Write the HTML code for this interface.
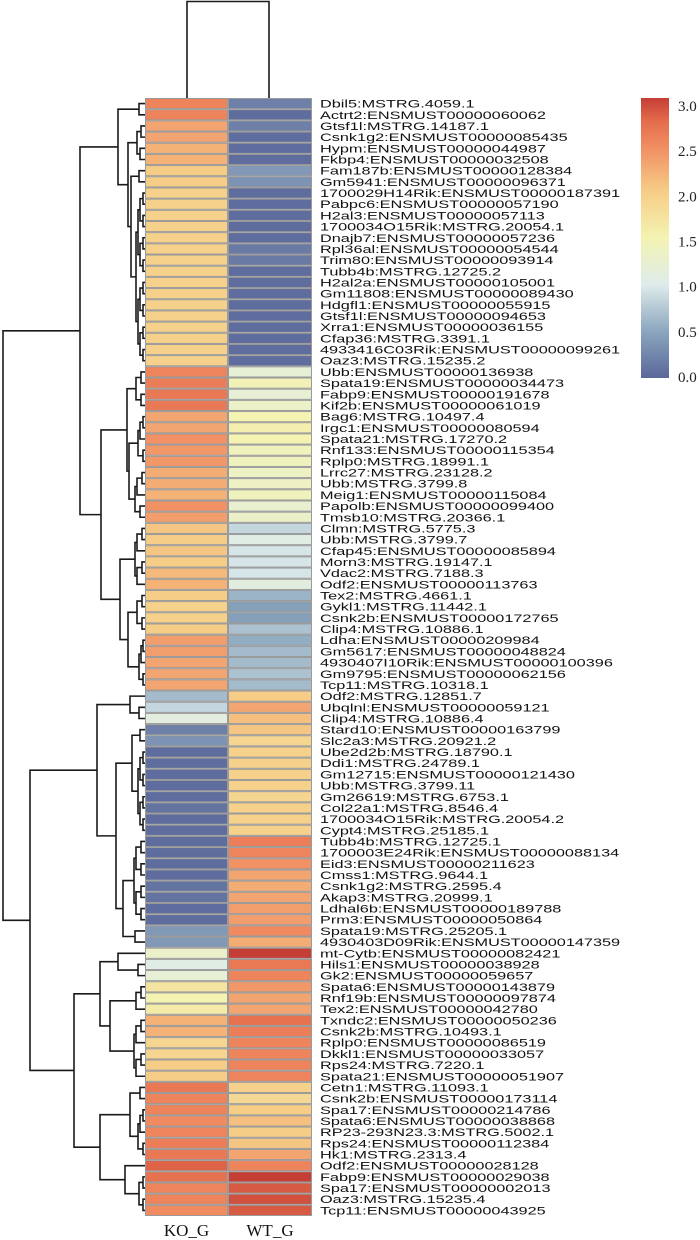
<!DOCTYPE html>
<html><head><meta charset="utf-8"><style>
html,body{margin:0;padding:0;background:#fff;}
svg{display:block;}
</style></head><body>
<svg id="chartSvg" width="700" height="1240" xmlns="http://www.w3.org/2000/svg">
<g id="gDendro" fill="none" stroke="#1a1a1a" stroke-width="1.6"></g>
<g id="gColDendro" fill="none" stroke="#1a1a1a" stroke-width="1.6"><path d="M187,98V1.5H269V98"></path></g>
<g id="gCells"></g>
<g id="gLabels"></g>
<g id="gColLabels"></g>
<g id="gLegend">
<defs><linearGradient id="cbGrad" x1="0" y1="1" x2="0" y2="0">
<stop offset="0" stop-color="rgb(90,103,154)"/><stop offset="0.1667" stop-color="rgb(139,166,190)"/><stop offset="0.3333" stop-color="rgb(222,236,235)"/><stop offset="0.5" stop-color="rgb(244,243,178)"/><stop offset="0.6667" stop-color="rgb(246,205,135)"/><stop offset="0.8333" stop-color="rgb(240,138,96)"/><stop offset="0.9167" stop-color="rgb(228,108,76)"/><stop offset="1" stop-color="rgb(196,62,53)"/>
</linearGradient></defs>
<rect x="641" y="98" width="28" height="280" fill="url(#cbGrad)"></rect>
</g>
</svg>
<script>
var rowLabels = ["Dbil5:MSTRG.4059.1","Actrt2:ENSMUST00000060062","Gtsf1l:MSTRG.14187.1","Csnk1g2:ENSMUST00000085435","Hypm:ENSMUST00000044987","Fkbp4:ENSMUST00000032508","Fam187b:ENSMUST00000128384","Gm5941:ENSMUST00000096371","1700029H14Rik:ENSMUST00000187391","Pabpc6:ENSMUST00000057190","H2al3:ENSMUST00000057113","1700034O15Rik:MSTRG.20054.1","Dnajb7:ENSMUST00000057236","Rpl36al:ENSMUST00000054544","Trim80:ENSMUST00000093914","Tubb4b:MSTRG.12725.2","H2al2a:ENSMUST00000105001","Gm11808:ENSMUST00000089430","Hdgfl1:ENSMUST00000055915","Gtsf1l:ENSMUST00000094653","Xrra1:ENSMUST00000036155","Cfap36:MSTRG.3391.1","4933416C03Rik:ENSMUST00000099261","Oaz3:MSTRG.15235.2","Ubb:ENSMUST00000136938","Spata19:ENSMUST00000034473","Fabp9:ENSMUST00000191678","Kif2b:ENSMUST00000061019","Bag6:MSTRG.10497.4","Irgc1:ENSMUST00000080594","Spata21:MSTRG.17270.2","Rnf133:ENSMUST00000115354","Rplp0:MSTRG.18991.1","Lrrc27:MSTRG.23128.2","Ubb:MSTRG.3799.8","Meig1:ENSMUST00000115084","Papolb:ENSMUST00000099400","Tmsb10:MSTRG.20366.1","Clmn:MSTRG.5775.3","Ubb:MSTRG.3799.7","Cfap45:ENSMUST00000085894","Morn3:MSTRG.19147.1","Vdac2:MSTRG.7188.3","Odf2:ENSMUST00000113763","Tex2:MSTRG.4661.1","Gykl1:MSTRG.11442.1","Csnk2b:ENSMUST00000172765","Clip4:MSTRG.10886.1","Ldha:ENSMUST00000209984","Gm5617:ENSMUST00000048824","4930407I10Rik:ENSMUST00000100396","Gm9795:ENSMUST00000062156","Tcp11:MSTRG.10318.1","Odf2:MSTRG.12851.7","Ubqlnl:ENSMUST00000059121","Clip4:MSTRG.10886.4","Stard10:ENSMUST00000163799","Slc2a3:MSTRG.20921.2","Ube2d2b:MSTRG.18790.1","Ddi1:MSTRG.24789.1","Gm12715:ENSMUST00000121430","Ubb:MSTRG.3799.11","Gm26619:MSTRG.6753.1","Col22a1:MSTRG.8546.4","1700034O15Rik:MSTRG.20054.2","Cypt4:MSTRG.25185.1","Tubb4b:MSTRG.12725.1","1700003E24Rik:ENSMUST00000088134","Eid3:ENSMUST00000211623","Cmss1:MSTRG.9644.1","Csnk1g2:MSTRG.2595.4","Akap3:MSTRG.20999.1","Ldhal6b:ENSMUST00000189788","Prm3:ENSMUST00000050864","Spata19:MSTRG.25205.1","4930403D09Rik:ENSMUST00000147359","mt-Cytb:ENSMUST00000082421","Hils1:ENSMUST00000038928","Gk2:ENSMUST00000059657","Spata6:ENSMUST00000143879","Rnf19b:ENSMUST00000097874","Tex2:ENSMUST00000042780","Txndc2:ENSMUST00000050236","Csnk2b:MSTRG.10493.1","Rplp0:ENSMUST00000086519","Dkkl1:ENSMUST00000033057","Rps24:MSTRG.7220.1","Spata21:ENSMUST00000051907","Cetn1:MSTRG.11093.1","Csnk2b:ENSMUST00000173114","Spa17:ENSMUST00000214786","Spata6:ENSMUST00000038868","RP23-293N23.3:MSTRG.5002.1","Rps24:ENSMUST00000112384","Hk1:MSTRG.2313.4","Odf2:ENSMUST00000028128","Fabp9:ENSMUST00000029038","Spa17:ENSMUST00000002013","Oaz3:MSTRG.15235.4","Tcp11:ENSMUST00000043925"];
var columnNames = ["KO_G","WT_G"];
var koValues = [2.55,2.55,2.3,2.3,2.2,2.2,2.0,2.0,1.95,1.95,1.95,1.95,1.95,1.95,1.95,1.95,1.95,1.95,1.95,1.95,1.95,1.95,1.95,1.95,
2.55,2.6,2.65,2.65,2.3,2.3,2.45,2.4,2.4,2.25,2.25,2.2,2.45,2.35,
2.05,2.0,2.05,2.0,2.15,2.2,2.0,1.95,1.95,2.0,2.35,2.35,2.3,2.3,2.3,
0.65,0.85,1.1,0.2,0.35,0.05,0.05,0.05,0.05,0.05,0.1,0.05,0.05,
0.05,0.05,0.05,0.05,0.1,0.1,0.05,0.05,0.4,0.4,
1.3,1.05,1.2,1.7,1.5,1.6,2.2,2.2,1.9,1.9,2.0,2.0,
2.65,2.55,2.55,2.5,2.55,2.6,2.65,2.8,2.7,2.55,2.55,2.5];
var wtValues = [0.2,0.05,0.2,0.05,0.05,0.05,0.4,0.35,0.05,0.05,0.05,0.05,0.05,0.15,0.15,0.05,0.05,0.05,0.05,0.05,0.05,0.05,0.05,0.05,
1.2,1.45,1.2,1.3,1.5,1.55,1.5,1.4,1.4,1.35,1.35,1.4,1.25,1.3,
0.85,1.05,0.95,0.95,0.95,1.1,0.6,0.45,0.45,0.7,0.55,0.65,0.65,0.7,0.65,
2.0,2.3,2.1,2.05,1.9,1.95,1.95,1.95,1.95,1.9,1.95,1.95,1.95,
2.6,2.55,2.45,2.3,2.25,2.3,2.35,2.35,2.5,2.25,
3.0,2.65,2.55,2.4,2.3,2.3,2.7,2.6,2.55,2.55,2.55,2.55,
1.95,1.85,2.0,2.1,2.0,2.05,2.3,2.55,3.0,2.85,2.9,2.85];
var legendTicks = [0.0,0.5,1.0,1.5,2.0,2.5,3.0];

var SVGNS="http://www.w3.org/2000/svg";
var HX0=145, HXM=228, HX1=312, HY0=98, HY1=1216;
var NROWS=rowLabels.length, RHGT=(HY1-HY0)/NROWS;
var cStops=[[0,[90,103,154]],[0.5,[139,166,190]],[1.0,[222,236,235]],[1.5,[244,243,178]],[2.0,[246,205,135]],[2.5,[240,138,96]],[2.75,[228,108,76]],[3.0,[196,62,53]]];
function valColor(v){
  v=Math.max(0,Math.min(3,v));
  for(var i=1;i<cStops.length;i++){
    if(v<=cStops[i][0]){
      var a=cStops[i-1],b=cStops[i],t=(v-a[0])/(b[0]-a[0]);
      var c=[0,1,2].map(function(k){return Math.round(a[1][k]+(b[1][k]-a[1][k])*t);});
      return 'rgb('+c.join(',')+')';
    }
  }
  return 'rgb(196,62,53)';
}
function rowY(i){return HY0+i*RHGT;}
function mk(tag,attrs,parent){var e=document.createElementNS(SVGNS,tag);for(var k in attrs){e.setAttribute(k,String(attrs[k]));}parent.appendChild(e);return e;}

function buildChart(){
  try{
    var gc=document.getElementById('gCells');
    var colX=[[HX0,HXM],[HXM,HX1]];
    var series=[koValues,wtValues];
    for(var c=0;c<2;c++){for(var i=0;i<NROWS;i++){
      var r=mk('rect',{x:colX[c][0]+0.5,y:rowY(i)+0.5,width:colX[c][1]-colX[c][0]-1,height:RHGT-1,fill:valColor(series[c][i]),stroke:'#9a9a9a','stroke-width':1},gc);
      
      
    }}
  }catch(e){}
  try{
    var gl=document.getElementById('gLabels');
    for(var j=0;j<NROWS;j++){
      var t=mk('text',{transform:'translate(320,'+(rowY(j)+RHGT/2+4)+') scale(1.48,1)','font-family':'Liberation Sans, sans-serif','font-size':11,fill:'#111'},gl);
      t.textContent=rowLabels[j];
      
      
    }
  }catch(e){}
  try{
    var gcl=document.getElementById('gColLabels');
    var cx=[(HX0+HXM)/2,(HXM+HX1)/2];
    for(var q=0;q<2;q++){
      var ct=mk('text',{x:cx[q],y:1236,'text-anchor':'middle','font-family':'Liberation Serif, serif','font-size':17,fill:'#111'},gcl);
      ct.textContent=columnNames[q];
      
      
    }
  }catch(e){}
  try{
    var gleg=document.getElementById('gLegend');
    for(var m=0;m<legendTicks.length;m++){
      var v=legendTicks[m];
      var lt=mk('text',{x:678,y:377-v*(271/3)+5,'font-family':'Liberation Serif, serif','font-size':15,fill:'#222'},gleg);
      lt.textContent=v.toFixed(1);
      
      
    }
  }catch(e){}
  try{
    var gd=document.getElementById('gDendro');
    function Rsplit(lo,hi,h){
      if(lo===hi) return lo;
      if(hi-lo===1) return [Math.min(h+3,143),lo,hi];
      var mid=Math.floor((lo+hi)/2);
      return [h,Rsplit(lo,mid,Math.min(h+2,142)),Rsplit(mid+1,hi,Math.min(h+2,142))];
    }
    var cA=[118,[139,1,2],[128,[137,[141,3,4],[140,5,6]],[131,[139,7,8],Rsplit(9,24,136)]]];
    var cB=[127,Rsplit(25,28,136),[129,Rsplit(29,33,138),Rsplit(34,38,135)]];
    var cC=[120,Rsplit(39,44,135),[128,Rsplit(45,48,137),Rsplit(49,53,139)]];
    var cD=[97,[130,54,[139,55,56]],[116,[132,[140,57,58],Rsplit(59,66,138)],[123,Rsplit(67,74,134),[135,75,76]]]];
    var cE=[74,[100,[118,77,[138,78,79]],[110,Rsplit(80,82,136),Rsplit(83,88,134)]],[100,[130,[140,89,90],Rsplit(91,95,138)],[125,96,Rsplit(97,100,139)]]];
    var tree=[3,[80,cA,[101,cB,cC]],[30,cD,cE]];
    function drawNode(n){
      if(typeof n==='number') return {x:HX0,y:rowY(n-1)+RHGT/2};
      var a=drawNode(n[1]),b=drawNode(n[2]),x=n[0];
      var p=mk('path',{d:'M'+a.x+','+a.y+'H'+x+'V'+b.y+'H'+b.x},gd);
      
      
      return {x:x,y:(a.y+b.y)/2};
    }
    drawNode(tree);
  }catch(e){}
}
if(document.readyState==='loading'){document.addEventListener('DOMContentLoaded',buildChart);}else{buildChart();}
</script>
</body></html>
